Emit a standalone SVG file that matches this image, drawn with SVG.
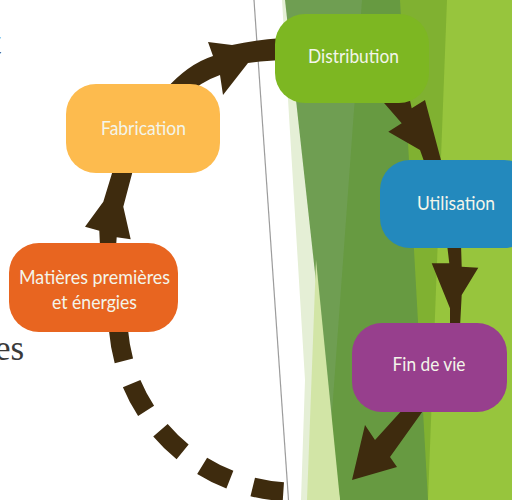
<svg xmlns="http://www.w3.org/2000/svg" width="512" height="500" viewBox="0 0 512 500">
<style>
.lbl{font-family:Lato,"Open Sans","Noto Sans",sans-serif;font-size:19.5px;fill:#f3f5ea;text-anchor:middle}
.arr{fill:#3e2b0e}
.bgtext{font-family:"Liberation Serif",serif;fill:#3a3a3a}
</style>
<rect x="0" y="0" width="512" height="500" fill="#ffffff"/>
<g id="background">
<polygon points="282,0 512,0 512,500 301,500 305,380" fill="#e5efd6"/>
<polygon points="285,0 512,0 512,500 340,500" fill="#6f9e52"/>
<polygon points="362,0 512,0 512,500 340,500 330,440" fill="#679a41"/>
<polygon points="400,0 512,0 512,500 428,500" fill="#80b131"/>
<polygon points="447,0 512,0 512,500 428,500" fill="#97c53d"/>
<polygon points="316,260 340,500 307,500" fill="#d2e5a6"/>
<line x1="254" y1="0" x2="288.5" y2="500" stroke="#9c9c9c" stroke-width="1.2"/>
<text class="bgtext" x="-9" y="54" font-size="36">t</text>
<text class="bgtext" x="-5" y="360" font-size="35">es</text>
</g>
<g id="connectors">
<polygon class="arr" points="113,170 103.3,201.7 85,226.7 99.3,230.7 100,247 116,247 116.7,237.3 130.7,239.3 123.3,206.7 133,170"/>
<path class="arr" d="M165,90 Q188,64 213,56 L208,42 L232,45 Q255,40 282,38 L282,60 Q262,61 248,63 L223,95 L220,75 Q200,82 185,97 Z"/>
<polygon class="arr" points="378,96 401.7,123.3 388.3,131.7 420,150 425,164 442,164 425,100 411.7,108.3 409,96"/>
<polygon class="arr" points="447,244 449.3,263.3 431.7,263.3 450,308.3 450,327 460,327 461.7,295 478.3,267.7 461.7,266.7 461,244"/>
<polygon class="arr" points="404,408 375,440 365,425 352,480 397,467 390,457 425,408"/>
<path d="M118.5,330.4 A177,177 0 0 0 295,492" fill="none" stroke="#3e2b0e" stroke-width="19" stroke-dasharray="31 24"/>
</g>
<g id="node-distribution">
<rect x="275" y="14" width="154" height="89" rx="30" fill="#7db722"/>
<text class="lbl" x="353.5" y="63" textLength="91" lengthAdjust="spacingAndGlyphs">Distribution</text>
</g>
<g id="node-fabrication">
<rect x="66" y="84" width="154" height="89" rx="30" fill="#fdbb4e"/>
<text class="lbl" x="143.5" y="135" textLength="85" lengthAdjust="spacingAndGlyphs">Fabrication</text>
</g>
<g id="node-utilisation">
<rect x="380" y="160" width="154" height="88" rx="30" fill="#2389bd"/>
<text class="lbl" x="456" y="210" textLength="78" lengthAdjust="spacingAndGlyphs">Utilisation</text>
</g>
<g id="node-findevie">
<rect x="352" y="323" width="155" height="89" rx="30" fill="#973f8d"/>
<text class="lbl" x="429" y="371" textLength="73" lengthAdjust="spacingAndGlyphs">Fin de vie</text>
</g>
<g id="node-matieres">
<rect x="9" y="243" width="169" height="89" rx="30" fill="#e86520"/>
<text class="lbl" x="94.5" y="284" textLength="151" lengthAdjust="spacingAndGlyphs">Matières premières</text>
<text class="lbl" x="94.5" y="309" textLength="85" lengthAdjust="spacingAndGlyphs">et énergies</text>
</g>
</svg>
